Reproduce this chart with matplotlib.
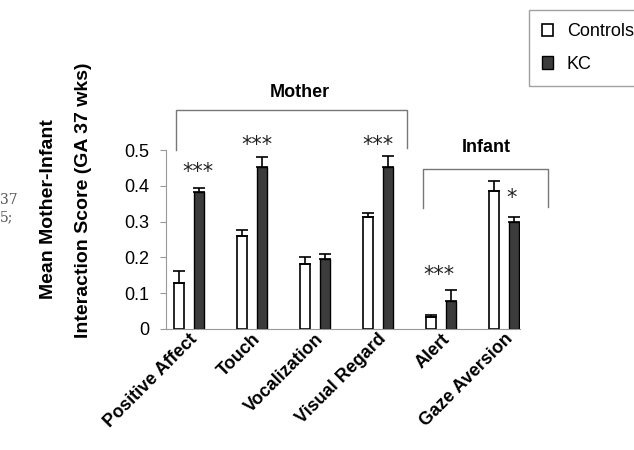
import matplotlib.pyplot as plt
import numpy as np

plt.rcParams['font.family'] = ['Liberation Sans', 'DejaVu Sans']

# data
categories = ['Positive Affect', 'Touch', 'Vocalization', 'Visual Regard', 'Alert', 'Gaze Aversion']
controls = [0.129, 0.261, 0.183, 0.314, 0.033, 0.385]
controls_err = [0.033, 0.017, 0.018, 0.011, 0.006, 0.029]
kc = [0.382, 0.452, 0.195, 0.454, 0.079, 0.300]
kc_err = [0.012, 0.028, 0.016, 0.029, 0.030, 0.014]
sig = ['***', '***', '', '***', '***', '*']

fig = plt.figure(figsize=(6.34, 4.5), dpi=100)
ax = fig.add_axes([0.262, 0.269, 0.558, 0.553])

x = np.arange(len(categories))
off = 0.16
w = 0.15
ax.bar(x - off, controls, w, color='white', edgecolor='black', linewidth=1.2, label='Controls',
       yerr=[np.zeros(len(x)), controls_err], capsize=4, error_kw={'elinewidth': 1.2, 'capthick': 1.2})
ax.bar(x + off, kc, w, color='#3c3c3c', edgecolor='black', linewidth=1.0, label='KC',
       yerr=[np.zeros(len(x)), kc_err], capsize=4, error_kw={'elinewidth': 1.2, 'capthick': 1.2})

# significance marks (position per group)
sig_x = [0.14, 0.08, 0, 0.0, -0.03, 0.12]
sig_y = [0.44, 0.514, 0, 0.514, 0.151, 0.366]
for i, s in enumerate(sig):
    if s:
        ax.text(x[i] + sig_x[i], sig_y[i], s, ha='center', va='center', fontsize=15,
                family='DejaVu Sans', color='#222222')

# group brackets
ax.plot([-0.206, -0.206, 3.46, 3.46], [0.50, 0.612, 0.612, 0.506], color='#777777', lw=1, clip_on=False)
ax.text(1.75, 0.662, 'Mother', ha='center', va='center', fontsize=13, fontweight='bold')
ax.plot([3.71, 3.71, 5.70, 5.70], [0.338, 0.447, 0.447, 0.341], color='#777777', lw=1, clip_on=False)
ax.text(4.72, 0.508, 'Infant', ha='center', va='center', fontsize=13, fontweight='bold')

ax.set_xlim(-0.365, 5.25)
ax.set_ylim(0, 0.696)
ax.spines['top'].set_visible(False)
ax.spines['right'].set_visible(False)
ax.spines['left'].set_bounds(0, 0.5)
ax.spines['left'].set_color('#999999')
ax.spines['bottom'].set_color('#999999')
ax.set_yticks([0, 0.1, 0.2, 0.3, 0.4, 0.5])
ax.set_yticklabels(['0', '0.1', '0.2', '0.3', '0.4', '0.5'], fontsize=13)
ax.tick_params(axis='y', length=4, color='#999999', pad=8)
ax.set_xticks(x)
ax.set_xticklabels(categories, rotation=45, ha='right', rotation_mode='anchor',
                   fontsize=13, fontweight='bold')
ax.tick_params(axis='x', length=0, pad=1)

fig.text(0.076, 0.535, 'Mean Mother-Infant', rotation=90, ha='center', va='center',
         fontsize=14, fontweight='bold')
fig.text(0.131, 0.555, 'Interaction Score (GA 37 wks)', rotation=90, ha='center', va='center',
         fontsize=14, fontweight='bold')

# scan fragments at left edge
fig.text(0.0, 0.555, '37', fontsize=10, family='DejaVu Serif', color='#555555', va='center')
fig.text(0.0, 0.518, '5;', fontsize=10, family='DejaVu Serif', color='#555555', va='center')

leg = fig.legend(loc='upper left', bbox_to_anchor=(0.834, 0.978), borderaxespad=0, fontsize=13,
                 frameon=True, fancybox=False, edgecolor='#888888', handlelength=0.6,
                 handleheight=0.7, handletextpad=0.75, borderpad=0.75, labelspacing=0.85)
leg.get_frame().set_linewidth(1)

fig.savefig('out.png', dpi=100)
